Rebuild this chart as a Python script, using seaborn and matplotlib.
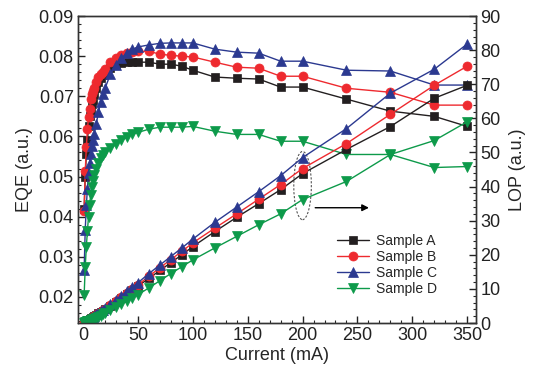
import numpy as np
import pandas as pd
import seaborn as sns
from matplotlib import pyplot as plt
from matplotlib.patches import Ellipse
from matplotlib.ticker import MultipleLocator

# ===== data =====
current = [1, 2, 3, 4, 5, 6, 7, 8, 9, 10, 12, 14, 16, 18, 20, 25, 30, 35, 40, 45,
           50, 60, 70, 80, 90, 100, 120, 140, 160, 180, 200, 240, 280, 320, 350]

samples = ["Sample A", "Sample B", "Sample C", "Sample D"]

eqe_a = [0.042, 0.050, 0.0555, 0.059, 0.0625, 0.065, 0.0665, 0.068, 0.069, 0.0705,
         0.072, 0.0735, 0.0745, 0.0752, 0.076, 0.077, 0.0778, 0.0782, 0.0785, 0.0785,
         0.0785, 0.0785, 0.078, 0.078, 0.0775, 0.0765, 0.0748, 0.0745, 0.0743, 0.0723,
         0.0723, 0.0693, 0.0663, 0.065, 0.0625]
eqe_b = [0.0415, 0.0513, 0.0573, 0.0618, 0.0648, 0.0668, 0.0693, 0.0705, 0.0713, 0.072,
         0.0735, 0.0748, 0.0755, 0.076, 0.0768, 0.0785, 0.0795, 0.0802, 0.0807, 0.081,
         0.0812, 0.0812, 0.0805, 0.0802, 0.080, 0.0798, 0.0785, 0.07725, 0.077, 0.075,
         0.075, 0.072, 0.071, 0.0678, 0.0678]
eqe_c = [0.0268, 0.0368, 0.0428, 0.047, 0.051, 0.0535, 0.0555, 0.0575, 0.059, 0.0605,
         0.063, 0.066, 0.0685, 0.0705, 0.072, 0.0755, 0.0778, 0.0795, 0.0808, 0.0817,
         0.0823, 0.0828, 0.0832, 0.0833, 0.0833, 0.0833, 0.08175, 0.081, 0.08075, 0.07875,
         0.07875, 0.0765, 0.0763, 0.0728, 0.0728]
eqe_d = [0.0205, 0.0275, 0.0325, 0.0365, 0.040, 0.043, 0.0455, 0.0475, 0.049, 0.0505,
         0.052, 0.0535, 0.0545, 0.0553, 0.056, 0.057, 0.058, 0.059, 0.0598, 0.0605,
         0.061, 0.0618, 0.0623, 0.0623, 0.0623, 0.0625, 0.0613, 0.0605, 0.0605, 0.0588,
         0.0588, 0.0555, 0.0555, 0.05225, 0.0525]

lop_a = [0.2, 0.4, 0.6, 0.8, 1.0, 1.2, 1.4, 1.6, 1.8, 2.0, 2.4, 2.8, 3.2, 3.6, 4.0,
         5.0, 6.2, 7.3, 8.5, 9.6, 10.8, 13.1, 15.4, 17.7, 20.0, 22.4, 26.8, 31.0, 35.0,
         39.1, 43.8, 50.9, 57.6, 65.9, 69.7]
lop_b = [0.2, 0.4, 0.6, 0.8, 1.0, 1.2, 1.4, 1.6, 1.8, 2.0, 2.4, 2.8, 3.2, 3.7, 4.1,
         5.2, 6.4, 7.6, 8.8, 10.0, 11.2, 13.7, 16.2, 18.6, 21.0, 23.5, 27.8, 32.0, 36.3,
         40.6, 45.3, 52.6, 61.2, 69.7, 75.3]
lop_c = [0.2, 0.4, 0.6, 0.8, 1.0, 1.2, 1.4, 1.6, 1.8, 2.0, 2.5, 2.9, 3.4, 3.8, 4.3,
         5.5, 6.8, 8.0, 9.3, 10.5, 11.8, 14.5, 17.0, 19.5, 22.0, 24.6, 29.5, 34.0, 38.5,
         43.2, 48.5, 57.0, 67.4, 74.4, 81.8]
lop_d = [0.1, 0.2, 0.3, 0.5, 0.6, 0.7, 0.9, 1.0, 1.2, 1.3, 1.6, 1.9, 2.2, 2.5, 2.9,
         3.8, 4.7, 5.6, 6.5, 7.4, 8.3, 10.3, 12.4, 14.5, 16.5, 18.5, 22.0, 25.4, 28.8,
         32.0, 36.2, 41.5, 49.4, 53.5, 59.0]

colors = ["#231f20", "#ee2a2f", "#2b3990", "#0d9a4a"]
markers = ["s", "o", "^", "v"]
marker_sizes = [5.5, 6.5, 6.5, 6.5]

eqe_all = [eqe_a, eqe_b, eqe_c, eqe_d]
lop_all = [lop_a, lop_b, lop_c, lop_d]

df = pd.concat([
    pd.DataFrame({"Current": current, "EQE": e, "LOP": l, "Sample": s})
    for s, e, l in zip(samples, eqe_all, lop_all)
], ignore_index=True)

# ===== style =====
sns.set_theme(style="ticks")
plt.rcParams["font.family"] = ["Liberation Sans", "DejaVu Sans"]
plt.rcParams["axes.edgecolor"] = "#333333"
plt.rcParams["axes.linewidth"] = 1.0

fig = plt.figure(figsize=(5.42, 3.73), dpi=100)
ax = fig.add_axes([0.1439, 0.134, 0.7343, 0.823])
ax2 = ax.twinx()

for s, c, m, ms in zip(samples, colors, markers, marker_sizes):
    sub = df[df["Sample"] == s]
    sns.lineplot(data=sub, x="Current", y="EQE", ax=ax, color=c, marker=m,
                 markersize=ms, markeredgecolor=c, markeredgewidth=0.5,
                 lw=1.0, sort=False, estimator=None, label=s, legend=False)
    sns.lineplot(data=sub, x="Current", y="LOP", ax=ax2, color=c, marker=m,
                 markersize=ms, markeredgecolor=c, markeredgewidth=0.5,
                 lw=1.0, sort=False, estimator=None, legend=False)

# ===== axes =====
ax.set_xlim(-4.6, 358)
ax.set_ylim(0.0135, 0.09)
ax2.set_ylim(0, 90)

ax.set_xticks(np.arange(0, 351, 50))
ax.set_yticks(np.arange(0.02, 0.0901, 0.01))
ax.set_yticklabels([f"{v:.2f}" for v in np.arange(0.02, 0.0901, 0.01)])
ax2.set_yticks(np.arange(0, 91, 10))
ax.xaxis.set_minor_locator(MultipleLocator(10))
ax.yaxis.set_minor_locator(MultipleLocator(0.002))
ax2.yaxis.set_minor_locator(MultipleLocator(2))

for a in (ax, ax2):
    a.tick_params(which="major", direction="in", length=5, width=1,
                  labelsize=13, colors="#222222", pad=3)
    a.tick_params(which="minor", direction="in", length=2.5, width=0.8)
ax.tick_params(axis="x", top=False)

ax.set_xlabel("Current (mA)", fontsize=13, labelpad=2)
ax.set_ylabel("EQE (a.u.)", fontsize=13, labelpad=4)
ax2.set_ylabel("LOP (a.u.)", fontsize=13, rotation=90, labelpad=6)

# ===== annotation: ellipse + arrow =====
ax2.add_patch(Ellipse((200, 40.3), width=16, height=20, fill=False,
                      ls=(0, (2, 1.5)), lw=0.8, ec="#555555"))
ax2.annotate("", xy=(263, 33.8), xytext=(209, 33.8),
             arrowprops=dict(arrowstyle="-|>", color="black", lw=1.0,
                             mutation_scale=10))

# ===== legend =====
handles, labels = ax.get_legend_handles_labels()
ax2.legend(handles, labels, loc="upper left", bbox_to_anchor=(0.65, 0.29),
           frameon=False, fontsize=10, handlelength=2.3, handletextpad=0.5,
           labelspacing=0.15, borderpad=0, borderaxespad=0)

fig.savefig("out.png", dpi=100)
